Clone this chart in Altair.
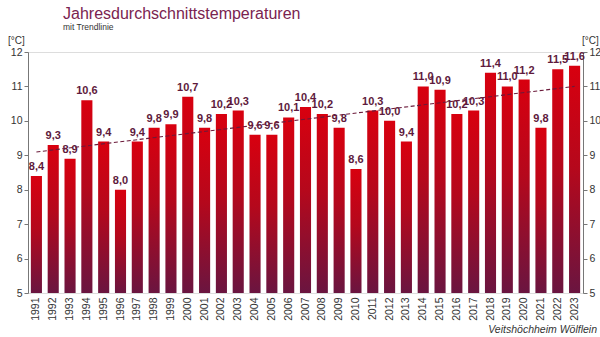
import altair as alt
import pandas as pd

years = list(range(1991, 2024))
temps = [8.4, 9.3, 8.9, 10.6, 9.4, 8.0, 9.4, 9.8, 9.9, 10.7,
         9.8, 10.2, 10.3, 9.6, 9.6, 10.1, 10.4, 10.2, 9.8, 8.6,
         10.3, 10.0, 9.4, 11.0, 10.9, 10.2, 10.3, 11.4, 11.0, 11.2,
         9.8, 11.5, 11.6]
labels = [f"{v:.1f}".replace(".", ",") for v in temps]
ticks = [5, 6, 7, 8, 9, 10, 11, 12]

df = pd.DataFrame({"Jahr": years, "Temp": temps, "Label": labels})

FONT = "Liberation Sans"
MAROON = "#5e1a3c"
W, H = 555, 241

x = alt.X("Jahr:O", scale=alt.Scale(paddingInner=0.34, paddingOuter=0.17),
          axis=alt.Axis(title=None, labelAngle=-90, labelFontSize=10.5, labelColor="#333",
                        labelFont=FONT, domain=False, ticks=False, labelPadding=4,
                        labelBaseline="middle", labelAlign="right"))
yscale = alt.Scale(domain=[5, 12], zero=False, nice=False)

def yaxis(orient):
    return alt.Axis(title=None, orient=orient, values=ticks, grid=False, labelOverlap=False,
                    labelFontSize=10.5, labelColor="#333", labelFont=FONT,
                    domainColor="#777", tickColor="#777", tickSize=4, labelPadding=2)

grad = alt.LinearGradient(
    gradient="linear",
    stops=[alt.GradientStop(color="#d8000f", offset=0),
           alt.GradientStop(color="#b5081c", offset=0.45),
           alt.GradientStop(color="#6a1540", offset=1)],
    x1=0, x2=0, y1=0, y2=1)

bars = alt.Chart(df).mark_bar(color=grad, clip=True).encode(
    x=x,
    y=alt.Y("Temp:Q", scale=yscale, axis=yaxis("left")),
    y2=alt.datum(5),
)

texts = alt.Chart(df).mark_text(baseline="bottom", dy=-4, font=FONT, fontWeight="bold",
                                fontSize=11, color=MAROON).encode(
    x=x, y=alt.Y("Temp:Q", scale=yscale, axis=yaxis("left")), text="Label:N")

trend = alt.Chart(df).transform_regression("Jahr", "Temp", method="linear").mark_line(
    color="#6b1a3a", strokeDash=[4, 2.5], strokeWidth=1.1).encode(
    x=x,
    y=alt.Y("Temp:Q", scale=yscale, axis=yaxis("right")),
)

one = alt.Data(values=[{"a": 1}])

def txt(s, xv, yv, size, color="#333", align="left", style="normal", weight="normal"):
    return alt.Chart(one).mark_text(text=s, align=align, baseline="alphabetic", font=FONT,
                                    fontSize=size, color=color, fontStyle=style,
                                    fontWeight=weight).encode(x=alt.value(xv), y=alt.value(yv))

title = txt("Jahresdurchschnittstemperaturen", 35, -33, 16, color="#7a2350")
subtitle = txt("mit Trendlinie", 35, -22, 8.5, color="#333")
lunit = txt("[°C]", -20, -8, 10)
runit = txt("[°C]", 554, -8, 10)
source = txt("Veitshöchheim Wölflein", 569, 281, 10.5, align="right", style="italic")

left = alt.layer(bars, texts)
chart = alt.layer(left, trend, title, subtitle, lunit, runit, source).resolve_scale(
    y="independent"
).properties(
    width=W, height=H,
    autosize=alt.AutoSizeParams(type="none"),
    padding={"left": 28, "top": 52, "right": 17, "bottom": 44},
).configure_view(stroke=None).configure(background="white")

chart.save("out.html", embed_options={"renderer": "svg", "actions": False})
